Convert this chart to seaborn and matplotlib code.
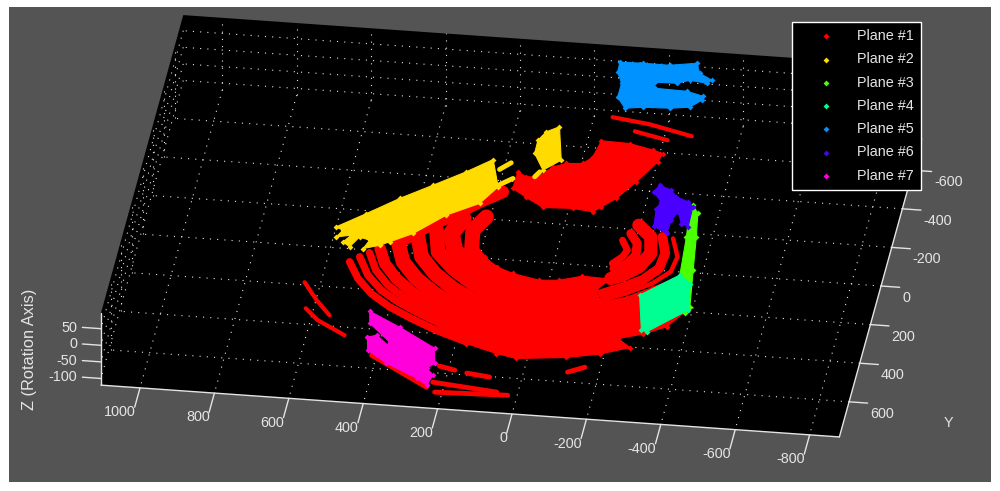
import numpy as np
import pandas as pd
import matplotlib
matplotlib.use("Agg")
import matplotlib.pyplot as plt
import seaborn as sns

# axis ticks and limits of the 3D box
x_ticks = [1000, 800, 600, 400, 200, 0, -200, -400, -600, -800]
y_ticks = [-600, -400, -200, 0, 200, 400, 600]
z_ticks = [50, 0, -50, -100]
x_lim = (-880, 1105)
y_lim = (-762, 782)
z_lim = (-120, 97)

plane_names = ["Plane #1", "Plane #2", "Plane #3", "Plane #4", "Plane #5", "Plane #6", "Plane #7"]
plane_colors = ["#ff0000", "#ffdb00", "#49ff00", "#00ff92", "#0092ff", "#4900ff", "#ff00db"]

# plane 1: scan arcs (X, Y, all near z = 0)
arc_x = [
    [510, 476, 430, 372, 306, 232, 144],
    [487, 452, 406, 358, 298, 238, 170],
    [464, 435, 392, 344, 282, 232, 170],
    [439, 416, 375, 325, 263, 218, 150],
    [397, 369, 322, 263, 206, 130],
    [348, 324, 277, 218, 157, 100],
    [304, 284, 232, 169, 98, 60],
    [242, 262, 241, 190, 127, 60],
    [182, 208, 197, 150, 90],
    [393, 333, 271, 211, 157],
    [-326, -351, -344, -304, -241, -180],
    [-297, -316, -311, -275, -228, -180],
    [-226, -266, -278, -257, -219, -191],
    [-211, -235, -240, -224, -192],
    [-194, -214, -206, -184],
    [-78, -181, -301],
    [-147, -240],
    [614, 569, 524],
    [592, 552, 470],
    [197, 154],
    [120, 57],
    [203, 27],
    [191, -4],
    [-145, -187],
    [384, 216],
]
arc_y = [
    [269, 351, 423, 484, 535, 586, 634],
    [240, 331, 402, 451, 500, 543, 600],
    [216, 302, 374, 428, 480, 517, 570],
    [191, 265, 337, 400, 460, 489, 540],
    [150, 250, 330, 400, 453, 510],
    [118, 218, 298, 368, 420, 470],
    [77, 187, 266, 335, 395, 430],
    [9, 89, 173, 252, 312, 370],
    [-8, 64, 167, 247, 300],
    [150, 64, -5, -82, -141],
    [35, 127, 205, 271, 332, 375],
    [31, 114, 193, 258, 302, 340],
    [-20, 35, 119, 191, 240, 261],
    [25, 73, 133, 179, 209],
    [62, 111, 146, 184],
    [-560, -537, -491],
    [-496, -462],
    [389, 476, 548],
    [521, 577, 644],
    [767, 782],
    [793, 805],
    [851, 879],
    [901, 891],
    [752, 721],
    [736, 879],
]
arc_widths = [5.4, 5.4, 5.4, 8.4, 10.6, 10.6, 10.6, 12, 10.8, 9, 3.2, 7, 9.5, 6.5, 5,
              3, 3, 3, 3, 3.5, 3.5, 3.5, 3.5, 3.5, 3.5]

# plane 1: solid patches
mass_x = [221, 143, 56, 0, -131, -217, -291, -254, -316, -373, -416, -370, -307, -244, -181, -160,
          -187, -177, -114, -56, -3, 71, 119, 157, 146, 202]
mass_y = [593, 643, 683, 701, 678, 649, 605, 563, 532, 486, 394, 228, 292, 352, 383, 326,
          270, 263, 259, 288, 295, 270, 242, 196, 367, 478]
top_x = [-66, -142, -209, -237, -230, -188, -147, -114, -95, -40, 40, 91, 133, 132, 106, 75, 43, 10, -34, -55]
top_y = [-436, -432, -407, -393, -349, -240, -148, -100, -72, -82, -76, -121, -162, -248, -226, -230, -286, -308, -314, -351]

# plane 2
wall_x = [206, 173, 210, 289, 363, 419, 443, 484, 473, 502, 521, 542, 525, 563, 551, 571, 501, 424, 346, 268]
wall_y = [-302, -165, -74, -3, 102, 153, 174, 197, 152, 139, 193, 170, 133, 147, 111, 96, 18, -71, -150, -230]
corner_x = [55, 26, 67, 101, 102, 86]
corner_y = [-492, -323, -266, -348, -416, -462]
bit_x = [[182, 156], [173, 140], [84, 74]]
bit_y = [[-254, -292], [-174, -213], [-229, -256]]

# planes 3 to 7
green_x = [-354, -373, -386, -402, -420, -411, -371, -360, -349]
green_y = [-141, -101, 18, 189, 376, 412, 228, 22, -115]
spring_x = [-279, -370, -404, -418, -324, -309]
spring_y = [335, 219, 258, 394, 519, 512]
blue_x = [-57, -118, -191, -261, -276, -313, -302, -255, -223, -164, -168, -255, -300, -301, -274, -222, -150, -104, -77, -77, -59]
blue_y = [-842, -845, -844, -864, -814, -783, -766, -775, -755, -753, -722, -718, -699, -678, -638, -626, -621, -610, -663, -736, -790]
violet_x = [-252, -286, -304, -339, -355, -357, -337, -320, -308, -305, -266, -260, -268, -241]
violet_y = [-231, -210, -178, -157, -133, -30, -44, -102, -57, 12, -21, -111, -147, -195]
magenta_x = [421, 330, 223, 212, 229, 208, 217, 248, 339, 398, 408, 385, 349, 346, 412]
magenta_y = [513, 584, 678, 754, 782, 816, 869, 837, 771, 712, 646, 632, 679, 663, 574]

plane_patches = [
    [(mass_x, mass_y), (top_x, top_y)],
    [(wall_x, wall_y), (corner_x, corner_y)],
    [(green_x, green_y)],
    [(spring_x, spring_y)],
    [(blue_x, blue_y)],
    [(violet_x, violet_y)],
    [(magenta_x, magenta_y)],
]

GRAY = "#545454"
LIGHT = "#e4e4e4"
DOT = (0, (1, 5.5))


def project(x, y, z=0.0):
    # view of the 3D axes, orthographic
    x, y, z = np.asarray(x, float), np.asarray(y, float), np.asarray(z, float)
    return 553.7 - 0.372 * x - 0.0533 * y, 223.2 - 0.0261 * x + 0.193 * y - 0.332 * z


def line3d(ax, x, y, z, **kws):
    sx, sy = project(x, y, z)
    sns.lineplot(x=sx, y=sy, sort=False, estimator=None, ax=ax, **kws)


sns.set_style("white")
plt.rcParams["font.family"] = ["Liberation Sans", "DejaVu Sans"]
plt.rcParams["font.size"] = 10.4

fig = plt.figure(figsize=(10, 4.91), dpi=100, facecolor="white")
ax = fig.add_axes([0.009, 1 - 482 / 491, 0.982, 475 / 491], facecolor=GRAY)
ax.set_xlim(9, 991)
ax.set_ylim(482, 7)
ax.set_xticks([])
ax.set_yticks([])
for s in ax.spines.values():
    s.set_visible(False)

# black box silhouette
box = [(x_lim[1], y_lim[1], z_lim[0]), (x_lim[1], y_lim[1], z_lim[1]), (x_lim[1], y_lim[0], z_lim[1]),
       (x_lim[0], y_lim[0], z_lim[1]), (x_lim[0], y_lim[0], z_lim[0]), (x_lim[0], y_lim[1], z_lim[0])]
bx, by = project(*zip(*box))
ax.fill(bx, by, color="black", lw=0, zorder=1)

# dotted grid on floor and two walls
grid = dict(color=LIGHT, linewidth=0.8, linestyle=DOT, zorder=1.5)
for xv in x_ticks:
    line3d(ax, [xv, xv], y_lim, [z_lim[0]] * 2, **grid)
    line3d(ax, [xv, xv], [y_lim[0]] * 2, z_lim, **grid)
for yv in y_ticks:
    line3d(ax, x_lim, [yv, yv], [z_lim[0]] * 2, **grid)
    line3d(ax, [x_lim[1]] * 2, [yv, yv], z_lim, **grid)
for zv in z_ticks:
    line3d(ax, x_lim, [y_lim[0]] * 2, [zv, zv], **grid)
    line3d(ax, [x_lim[1]] * 2, y_lim, [zv, zv], **grid)

# axis lines and ticks
axis = dict(color=LIGHT, linewidth=1, zorder=2)
line3d(ax, x_lim, [y_lim[1]] * 2, [z_lim[0]] * 2, **axis)
line3d(ax, [x_lim[0]] * 2, y_lim, [z_lim[0]] * 2, **axis)
line3d(ax, [x_lim[1]] * 2, [y_lim[1]] * 2, z_lim, **axis)
for xv in x_ticks:
    line3d(ax, [xv, xv], [y_lim[1], y_lim[1] + 100], [z_lim[0]] * 2, **axis)
    tx, ty = project(xv, y_lim[1] - 45, z_lim[0])
    ax.text(tx - 7, ty + 33, str(xv), color=LIGHT, ha="right", va="center")
for yv in y_ticks:
    line3d(ax, [x_lim[0], x_lim[0] - 50], [yv, yv], [z_lim[0]] * 2, **axis)
    tx, ty = project(x_lim[0], yv, z_lim[0])
    ax.text(tx + 21, ty + 12, str(yv), color=LIGHT, ha="left", va="center")
for zv in z_ticks:
    line3d(ax, [x_lim[1], x_lim[1] + 50], [y_lim[1]] * 2, [zv, zv], **axis)
    tx, ty = project(x_lim[1], y_lim[1], zv)
    ax.text(77, ty - 1, str(zv), color=LIGHT, ha="right", va="center")
ax.text(30, 349, "Z (Rotation Axis)", color=LIGHT, rotation=90, ha="center", va="center", fontsize=11.8)
ax.text(948, 423, "Y", color=LIGHT, ha="center", va="center")

# plane 1 arcs
for xs, ys, w in zip(arc_x, arc_y, arc_widths):
    line3d(ax, xs, ys, 0.0, color=plane_colors[0], linewidth=w, zorder=2.5, solid_capstyle="round")
# plane 2 short bits
for xs, ys in zip(bit_x, bit_y):
    line3d(ax, xs, ys, 0.0, color=plane_colors[1], linewidth=3.5, zorder=2.6, solid_capstyle="round")

# point clouds
for i, (name, col, patches) in enumerate(zip(plane_names, plane_colors, plane_patches)):
    points = []
    for xs, ys in patches:
        sx, sy = project(xs, ys, 0.0)
        ax.fill(sx, sy, color=col, lw=0.8, zorder=2.5 + i * 0.2)
        points.append(pd.DataFrame({"sx": sx, "sy": sy}))
    sns.scatterplot(data=pd.concat(points), x="sx", y="sy", color=col, marker="D", s=9, linewidth=0,
                    label=name, zorder=2.5 + i * 0.2, ax=ax)
ax.set_xlabel("")
ax.set_ylabel("")

leg = ax.legend(loc="upper left", bbox_to_anchor=(792, 22), bbox_transform=ax.transData, borderaxespad=0,
                borderpad=0.5, handlelength=3.75, handletextpad=0.22, labelspacing=0.64,
                fancybox=False, framealpha=1, facecolor="black", edgecolor="white", labelcolor=LIGHT,
                fontsize=10.4)
leg.get_frame().set_linewidth(1)
leg.set_zorder(5)

fig.savefig("out.png", dpi=100, facecolor="white")
